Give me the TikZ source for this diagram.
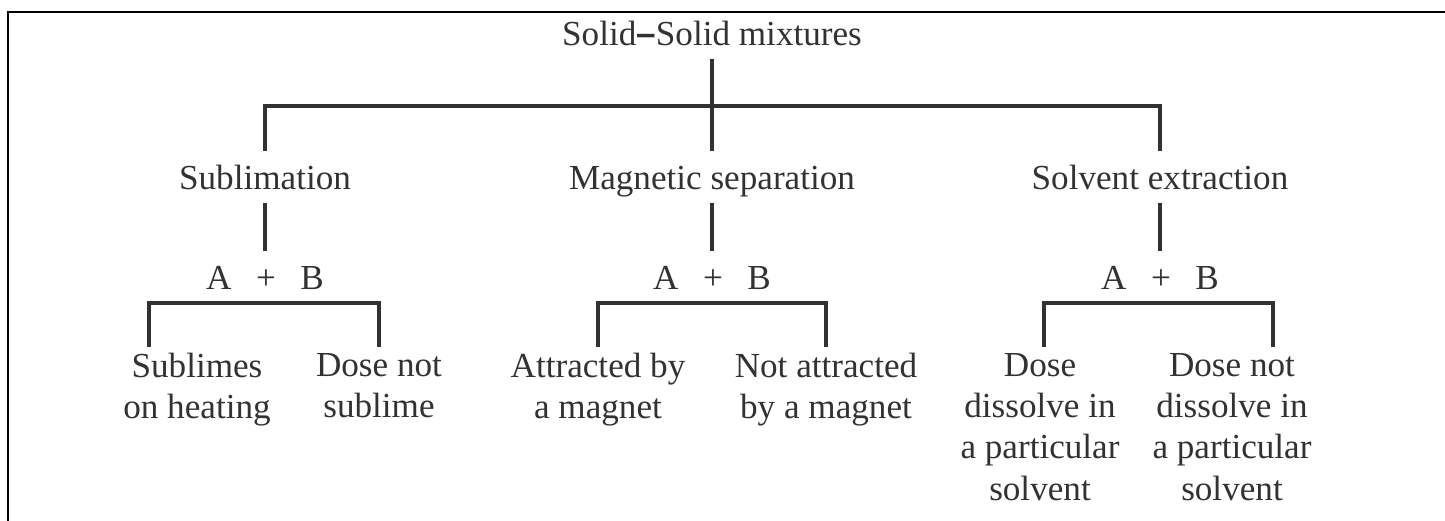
\documentclass[tikz,border=0pt]{standalone}
\usepackage{fontspec}
\setmainfont{Liberation Serif}
\newfontfamily\dashfont{Liberation Sans}
\usetikzlibrary{calc}
\definecolor{ink}{RGB}{50,50,50}

\begin{document}
\begin{tikzpicture}[x=0.02cm,y=-0.02cm,
  lbl/.style={font=\fontsize{20}{23.5}\selectfont,text=ink,anchor=base,
    inner xsep=0pt,inner ysep=7pt,text height=14.5pt,text depth=0.8pt},
  leaf/.style={font=\fontsize{20}{23.5}\selectfont,text=ink,anchor=north,
    align=center,inner xsep=0pt,inner ysep=3.4pt},
  link/.style={draw=ink,line width=1.8pt}]
  \useasboundingbox (0,0) rectangle (1445,521);
  % frame
  \draw[line width=1.2pt] (8,521) -- (8,12) -- (1445,12);

  \node[lbl] (root) at (712,45) {Solid{\dashfont\bfseries –}Solid mixtures};
  \node[lbl] (subl) at (265,189) {Sublimation};
  \node[lbl] (magn) at (712,189) {Magnetic separation};
  \node[lbl] (solv) at (1160,189) {Solvent extraction};
  \node[lbl] (sublab) at (265,289) {A\hspace{14pt}+\hspace{14pt}B};
  \node[lbl] (magnab) at (712,289) {A\hspace{14pt}+\hspace{14pt}B};
  \node[lbl] (solvab) at (1160,289) {A\hspace{14pt}+\hspace{14pt}B};

  \coordinate (hub) at (712,106);
  \draw[link] (root.south) -- (magn.north);
  \draw[link] (subl.north) |- (hub) -| (solv.north);
  \draw[link] (subl) -- (sublab);
  \draw[link] (magn) -- (magnab);
  \draw[link] (solv) -- (solvab);

  % feet of the brackets
  \coordinate (sublA) at (149,347);
  \coordinate (sublB) at (379,347);
  \coordinate (magnA) at (598,347);
  \coordinate (magnB) at (826,347);
  \coordinate (solvA) at (1044,347);
  \coordinate (solvB) at (1273,347);
  \draw[link] (sublA) |- (sublab.south) -| (sublB);
  \draw[link] (magnA) |- (magnab.south) -| (magnB);
  \draw[link] (solvA) |- (solvab.south) -| (solvB);

  \node[leaf] (heat) at (197,347) {Sublimes\\on heating};
  \node[leaf] (nosub) at (379,347) {Dose not\\sublime};
  \node[leaf] (attr) at (598,347) {Attracted by\\a magnet};
  \node[leaf] (noattr) at (826,347) {Not attracted\\by a magnet};
  \node[leaf] (diss) at (1040,347) {Dose\\dissolve in\\a particular\\solvent};
  \node[leaf] (nodiss) at (1232,347) {Dose not\\dissolve in\\a particular\\solvent};
\end{tikzpicture}
\end{document}
